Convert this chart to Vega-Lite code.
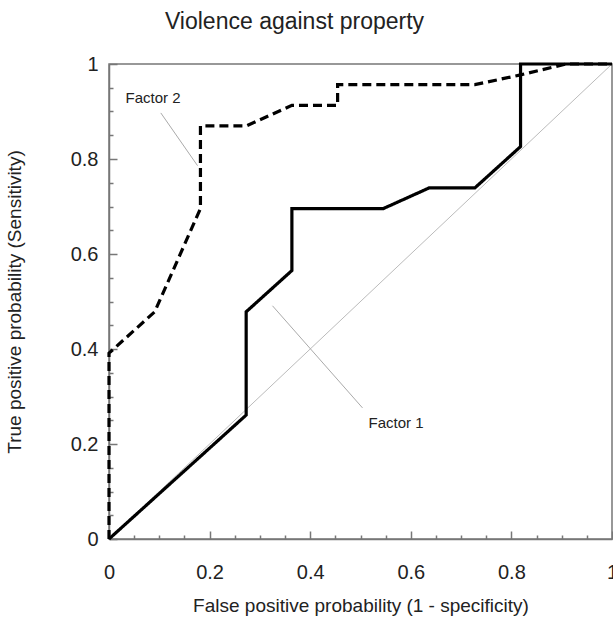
{
  "$schema": "https://vega.github.io/schema/vega-lite/v6.json",
  "autosize": "none",
  "width": 503,
  "height": 475,
  "padding": {"left": 109, "top": 64, "right": 1, "bottom": 80},
  "background": "white",
  "title": {"text": "Violence against property", "font": "Liberation Sans", "fontSize": 23, "fontWeight": "normal", "color": "#222", "anchor": "middle", "dx": -66, "offset": 20},
  "config": {
    "view": {"stroke": "#777777", "strokeWidth": 1.5},
    "axis": {"labelFont": "Liberation Sans", "titleFont": "Liberation Sans", "labelColor": "#222", "titleColor": "#222", "domainColor": "#777777", "tickColor": "#777777", "domainWidth": 1.5, "tickWidth": 1.5, "grid": false, "titleFontWeight": "normal", "labelFontSize": 20, "titleFontSize": 19}
  },
  "resolve": {"scale": {"x": "independent", "y": "independent"}, "axis": {"x": "independent", "y": "independent"}},
  "layer": [
    {
      "data": {"values": [{"x": 0, "y": 0, "x2": 1, "y2": 1}]},
      "mark": {"type": "rule", "color": "#bbbbbb", "strokeWidth": 1},
      "encoding": {
        "x": {"field": "x", "type": "quantitative", "scale": {"domain": [0, 1], "nice": false}, "axis": {"orient": "bottom", "values": [0, 0.2, 0.4, 0.6, 0.8, 1], "format": "~g", "ticks": false, "labelPadding": 23, "labelFlush": false, "title": "False positive probability (1 - specificity)", "titlePadding": 14}},
        "y": {"field": "y", "type": "quantitative", "scale": {"domain": [0, 1], "nice": false}, "axis": {"orient": "left", "values": [0, 0.2, 0.4, 0.6, 0.8, 1], "format": "~g", "ticks": false, "labelPadding": 11, "labelFlush": false, "title": "True positive probability (Sensitivity)", "titlePadding": 46}},
        "x2": {"field": "x2"},
        "y2": {"field": "y2"}
      }
    },
    {
      "data": {"values": [
        {"series": "Factor 1", "i": 0, "x": 0, "y": 0},
        {"series": "Factor 1", "i": 1, "x": 0.2727, "y": 0.2609},
        {"series": "Factor 1", "i": 2, "x": 0.2727, "y": 0.4783},
        {"series": "Factor 1", "i": 3, "x": 0.3636, "y": 0.5652},
        {"series": "Factor 1", "i": 4, "x": 0.3636, "y": 0.6957},
        {"series": "Factor 1", "i": 5, "x": 0.5455, "y": 0.6957},
        {"series": "Factor 1", "i": 6, "x": 0.6364, "y": 0.7391},
        {"series": "Factor 1", "i": 7, "x": 0.7273, "y": 0.7391},
        {"series": "Factor 1", "i": 8, "x": 0.8182, "y": 0.8261},
        {"series": "Factor 1", "i": 9, "x": 0.8182, "y": 1},
        {"series": "Factor 1", "i": 10, "x": 1, "y": 1},
        {"series": "Factor 2", "i": 0, "x": 0, "y": 0},
        {"series": "Factor 2", "i": 1, "x": 0, "y": 0.3913},
        {"series": "Factor 2", "i": 2, "x": 0.0909, "y": 0.4783},
        {"series": "Factor 2", "i": 3, "x": 0.1818, "y": 0.6957},
        {"series": "Factor 2", "i": 4, "x": 0.1818, "y": 0.8696},
        {"series": "Factor 2", "i": 5, "x": 0.2727, "y": 0.8696},
        {"series": "Factor 2", "i": 6, "x": 0.3636, "y": 0.913},
        {"series": "Factor 2", "i": 7, "x": 0.4545, "y": 0.913},
        {"series": "Factor 2", "i": 8, "x": 0.4545, "y": 0.9565},
        {"series": "Factor 2", "i": 9, "x": 0.7273, "y": 0.9565},
        {"series": "Factor 2", "i": 10, "x": 0.8182, "y": 0.977},
        {"series": "Factor 2", "i": 11, "x": 0.9091, "y": 1},
        {"series": "Factor 2", "i": 12, "x": 1, "y": 1}
      ]},
      "mark": {"type": "line", "color": "black", "strokeWidth": 3.2, "strokeJoin": "miter"},
      "encoding": {
        "x": {"field": "x", "type": "quantitative", "scale": {"domain": [0, 1], "nice": false}, "axis": {"orient": "top", "offset": -475, "values": [0, 0.05, 0.1, 0.15, 0.2, 0.25, 0.3, 0.35, 0.4, 0.45, 0.5, 0.55, 0.6, 0.65, 0.7, 0.75, 0.8, 0.85, 0.9, 0.95, 1], "tickSize": {"condition": {"test": "abs(datum.value*5 - round(datum.value*5)) < 0.001", "value": 8}, "value": 4}, "labels": false, "title": null, "domain": false}},
        "y": {"field": "y", "type": "quantitative", "scale": {"domain": [0, 1], "nice": false}, "axis": {"orient": "right", "offset": -503, "values": [0, 0.05, 0.1, 0.15, 0.2, 0.25, 0.3, 0.35, 0.4, 0.45, 0.5, 0.55, 0.6, 0.65, 0.7, 0.75, 0.8, 0.85, 0.9, 0.95, 1], "tickSize": {"condition": {"test": "abs(datum.value*5 - round(datum.value*5)) < 0.001", "value": 8}, "value": 4}, "labels": false, "title": null, "domain": false}},
        "order": {"field": "i", "type": "quantitative"},
        "detail": {"field": "series"},
        "strokeDash": {"field": "series", "type": "nominal", "scale": {"domain": ["Factor 1", "Factor 2"], "range": [[1, 0], [9, 5]]}, "legend": null}
      }
    },
    {
      "layer": [
        {
          "data": {"values": [
            {"x": 0.103, "y": 0.897, "x2": 0.176, "y2": 0.786},
            {"x": 0.325, "y": 0.491, "x2": 0.504, "y2": 0.276}
          ]},
          "mark": {"type": "rule", "color": "#aaaaaa", "strokeWidth": 1},
          "encoding": {
            "x": {"field": "x", "type": "quantitative", "scale": {"domain": [0, 1], "nice": false}, "axis": {"orient": "bottom", "offset": -475, "values": [0, 0.05, 0.1, 0.15, 0.2, 0.25, 0.3, 0.35, 0.4, 0.45, 0.5, 0.55, 0.6, 0.65, 0.7, 0.75, 0.8, 0.85, 0.9, 0.95, 1], "tickSize": {"condition": {"test": "abs(datum.value*5 - round(datum.value*5)) < 0.001", "value": 8}, "value": 4}, "labels": false, "title": null}},
            "y": {"field": "y", "type": "quantitative", "scale": {"domain": [0, 1], "nice": false}, "axis": {"orient": "left", "offset": -503, "values": [0, 0.05, 0.1, 0.15, 0.2, 0.25, 0.3, 0.35, 0.4, 0.45, 0.5, 0.55, 0.6, 0.65, 0.7, 0.75, 0.8, 0.85, 0.9, 0.95, 1], "tickSize": {"condition": {"test": "abs(datum.value*5 - round(datum.value*5)) < 0.001", "value": 8}, "value": 4}, "labels": false, "title": null}},
            "x2": {"field": "x2"},
            "y2": {"field": "y2"}
          }
        },
        {
          "data": {"values": [
            {"label": "Factor 2", "x": 0.033, "y": 0.929},
            {"label": "Factor 1", "x": 0.516, "y": 0.245}
          ]},
          "mark": {"type": "text", "align": "left", "baseline": "middle", "font": "Liberation Sans", "fontSize": 15, "color": "#222"},
          "encoding": {
            "x": {"field": "x", "type": "quantitative", "axis": null},
            "y": {"field": "y", "type": "quantitative", "axis": null},
            "text": {"field": "label"}
          }
        }
      ]
    }
  ]
}
